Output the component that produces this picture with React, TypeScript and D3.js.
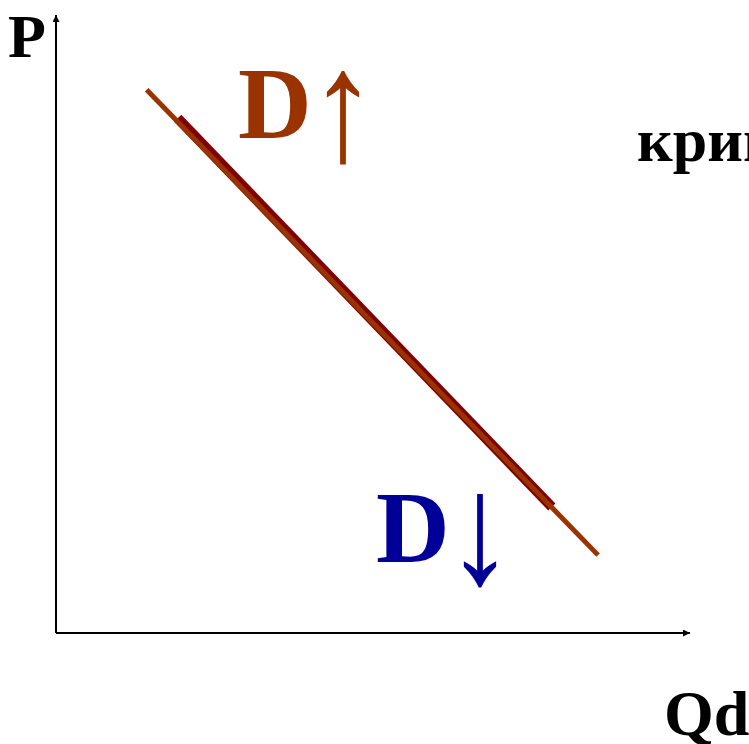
import React, { useEffect, useRef } from 'react';
import * as d3 from 'd3';

// demand curve, in quantity / price units
const demandLong = [
  { q: 1.43, p: 8.79 },
  { q: 8.55, p: 1.26 },
];
const demandShort = [
  { q: 1.92, p: 8.33 },
  { q: 7.82, p: 2.04 },
];
const axisLabels = { price: 'P', quantity: 'Qd' };
const shiftLetters = ['D', 'D'];
const shiftArrows = ['↑', '↓'];
const captionText = 'кривая спроса';

const W = 749;
const H = 744;

export default function App() {
  const ref = useRef<SVGSVGElement>(null);

  useEffect(() => {
    document.body.style.margin = '0';
    const svg = d3.select(ref.current);
    svg.selectAll('*').remove();

    const x = d3.scaleLinear().domain([0, 10]).range([56, 690]);
    const y = d3.scaleLinear().domain([0, 10]).range([633, 15]);

    const defs = svg.append('defs');
    defs.append('marker')
      .attr('id', 'arr')
      .attr('viewBox', '0 0 10 10')
      .attr('refX', 10)
      .attr('refY', 5)
      .attr('markerWidth', 12)
      .attr('markerHeight', 7)
      .attr('markerUnits', 'userSpaceOnUse')
      .attr('orient', 'auto')
      .append('path')
      .attr('d', 'M0,0 L10,5 L0,10 Z')
      .attr('fill', '#000');

    // axes
    svg.append('line')
      .attr('x1', x(0)).attr('y1', y(0))
      .attr('x2', x(0)).attr('y2', y(10))
      .attr('stroke', '#000').attr('stroke-width', 2)
      .attr('marker-end', 'url(#arr)');
    svg.append('line')
      .attr('x1', x(0)).attr('y1', y(0))
      .attr('x2', x(10)).attr('y2', y(0))
      .attr('stroke', '#000').attr('stroke-width', 2)
      .attr('marker-end', 'url(#arr)');

    const line = d3.line<{ q: number; p: number }>()
      .x(d => x(d.q))
      .y(d => y(d.p));

    svg.append('path')
      .attr('d', line(demandShort))
      .attr('stroke', '#800000')
      .attr('stroke-width', 10)
      .attr('fill', 'none');
    svg.append('path')
      .attr('d', line(demandLong))
      .attr('stroke', '#993300')
      .attr('stroke-width', 5)
      .attr('fill', 'none');

    const font = '"Liberation Serif", "Times New Roman", serif';

    svg.append('text')
      .attr('x', 8).attr('y', 57)
      .attr('font-family', font).attr('font-weight', 'bold')
      .attr('font-size', 62)
      .text(axisLabels.price);

    svg.append('text')
      .attr('x', 664).attr('y', 735)
      .attr('font-family', font).attr('font-weight', 'bold')
      .attr('font-size', 64)
      .text(axisLabels.quantity);

    svg.append('text')
      .attr('x', 637).attr('y', 161)
      .attr('font-family', font).attr('font-weight', 'bold')
      .attr('font-size', 62)
      .text(captionText);

    // D↑ (shift up) and D↓ (shift down)
    const shifts = [
      { x: 238, y: 138, ax: 343, ay: 160, color: '#993300' },
      { x: 376, y: 562, ax: 480, ay: 583, color: '#000099' },
    ];
    shifts.forEach((s, i) => {
      svg.append('text')
        .attr('x', s.x).attr('y', s.y)
        .attr('font-family', font).attr('font-weight', 'bold')
        .attr('font-size', 102)
        .attr('fill', s.color)
        .text(shiftLetters[i]);
      svg.append('text')
        .attr('transform', `translate(${s.ax},${s.ay}) scale(1.35,1.55)`)
        .attr('text-anchor', 'middle')
        .attr('font-family', font)
        .attr('font-size', 102)
        .attr('fill', s.color)
        .text(shiftArrows[i]);
    });
  }, []);

  return <svg ref={ref} width={W} height={H} style={{ display: 'block', background: '#fff' }} />;
}
